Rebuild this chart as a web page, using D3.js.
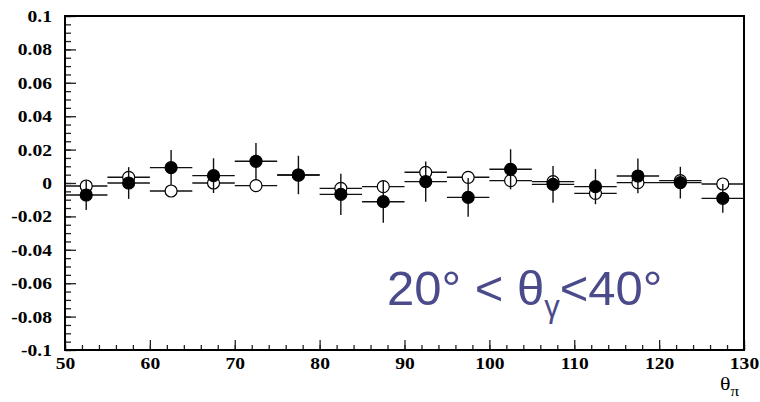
<!DOCTYPE html>
<html>
<head>
<meta charset="utf-8">
<script src="https://cdn.jsdelivr.net/npm/d3@7"></script>
<style>
  html, body { margin: 0; padding: 0; background: #fff; }
  svg { display: block; }
</style>
</head>
<body>
<svg id="chart" width="760" height="402"></svg>
<script>
// Bin centres in theta_pi (degrees), each bin 5 degrees wide
const binCenters = [52.5, 57.5, 62.5, 67.5, 72.5, 77.5, 82.5, 87.5, 92.5, 97.5, 102.5, 107.5, 112.5, 117.5, 122.5, 127.5];
const binHalfWidth = 2.5;

// Filled-marker series: values and errors
const filledValues = [-0.0072, 0.0000, 0.0092, 0.0044, 0.0130, 0.0048, -0.0068, -0.0112, 0.0008, -0.0086, 0.0082, -0.0008, -0.0022, 0.0042, 0.0002, -0.0092];
const filledErrors = [0.0090, 0.0095, 0.0105, 0.0104, 0.0110, 0.0115, 0.0124, 0.0126, 0.0120, 0.0116, 0.0120, 0.0110, 0.0105, 0.0104, 0.0095, 0.0086];

// Open-marker series: values and errors
const openValues = [-0.0018, 0.0034, -0.0048, 0.0000, -0.0016, 0.0048, -0.0032, -0.0022, 0.0064, 0.0034, 0.0014, 0.0008, -0.0062, 0.0002, 0.0014, -0.0006];
const openErrors = [0.0030, 0.0030, 0.0030, 0.0030, 0.0030, 0.0030, 0.0030, 0.0030, 0.0030, 0.0030, 0.0030, 0.0030, 0.0030, 0.0030, 0.0030, 0.0030];

// Axis ticks
const xMajorTicks = [50, 60, 70, 80, 90, 100, 110, 120, 130];
const xMinorTicks = d3.range(50, 130.01, 2);
const yMajorTicks = [-0.1, -0.08, -0.06, -0.04, -0.02, 0, 0.02, 0.04, 0.06, 0.08, 0.1];
const yMinorTicks = d3.range(-0.1, 0.1001, 0.005);
const yTickLabels = ["-0.1", "-0.08", "-0.06", "-0.04", "-0.02", "0", "0.02", "0.04", "0.06", "0.08", "0.1"];

const svg = d3.select("#chart");
const margin = { left: 65, right: 16, top: 16, bottom: 52 };
const W = 760, H = 402;

const x = d3.scaleLinear().domain([50, 130]).range([margin.left, W - margin.right]);
const y = d3.scaleLinear().domain([-0.1, 0.1]).range([H - margin.bottom, margin.top]);

const labelStretch = 1.15;

function styleTicks(g) {
  g.select(".domain").remove();
  g.selectAll("line").attr("stroke", "#222").attr("stroke-width", 1.3);
}

// Bold serif tick labels, slightly widened
function styleLabels(g) {
  g.selectAll("text").each(function () {
    const t = d3.select(this);
    const tx = +t.attr("x") || 0;
    const ty = +t.attr("y") || 0;
    t.attr("x", 0).attr("y", 0)
      .attr("transform", `translate(${tx},${ty}) scale(${labelStretch},1)`)
      .attr("font-family", "Liberation Serif")
      .attr("font-weight", "bold")
      .attr("font-size", 17)
      .attr("fill", "#000");
  });
}

// Minor ticks
svg.append("g")
  .attr("transform", `translate(0,${y(-0.1)})`)
  .call(d3.axisBottom(x).tickValues(xMinorTicks).tickSize(-5).tickFormat(""))
  .call(styleTicks);
svg.append("g")
  .attr("transform", `translate(${x(50)},0)`)
  .call(d3.axisLeft(y).tickValues(yMinorTicks).tickSize(-6).tickFormat(""))
  .call(styleTicks);

// Major ticks with labels
svg.append("g")
  .attr("transform", `translate(0,${y(-0.1)})`)
  .call(d3.axisBottom(x).tickValues(xMajorTicks).tickSize(-10).tickPadding(7).tickFormat(d3.format("d")))
  .call(styleTicks)
  .call(styleLabels);
svg.append("g")
  .attr("transform", `translate(${x(50)},0)`)
  .call(d3.axisLeft(y).tickValues(yMajorTicks).tickSize(-11).tickPadding(13)
    .tickFormat((d, i) => yTickLabels[i]))
  .call(styleTicks)
  .call(styleLabels);

// Frame
svg.append("rect")
  .attr("x", x(50)).attr("y", y(0.1))
  .attr("width", x(130) - x(50)).attr("height", y(-0.1) - y(0.1))
  .attr("fill", "none").attr("stroke", "#000").attr("stroke-width", 2);

// Error bars and markers for one series
function drawSeries(values, errors, filled) {
  const g = svg.append("g");
  const pts = binCenters.map((c, i) => ({ c, v: values[i], e: errors[i] }));
  g.selectAll("line.h").data(pts).join("line")
    .attr("x1", d => x(d.c - binHalfWidth)).attr("x2", d => x(d.c + binHalfWidth))
    .attr("y1", d => y(d.v)).attr("y2", d => y(d.v))
    .attr("stroke", "#111").attr("stroke-width", 1.4);
  g.selectAll("line.v").data(pts).join("line")
    .attr("x1", d => x(d.c)).attr("x2", d => x(d.c))
    .attr("y1", d => y(d.v - d.e)).attr("y2", d => y(d.v + d.e))
    .attr("stroke", "#111").attr("stroke-width", 1.4);
  g.selectAll("circle").data(pts).join("circle")
    .attr("cx", d => x(d.c)).attr("cy", d => y(d.v)).attr("r", 6)
    .attr("fill", filled ? "#000" : "#fff")
    .attr("stroke", "#000").attr("stroke-width", 1.2);
}
drawSeries(openValues, openErrors, false);
drawSeries(filledValues, filledErrors, true);

// X axis title: theta_pi
const xt = svg.append("text")
  .attr("transform", `translate(720,390) scale(${labelStretch},1)`)
  .attr("font-family", "Liberation Serif").attr("font-size", 19).attr("fill", "#000");
xt.append("tspan").text("θ");
xt.append("tspan").attr("dy", 6).attr("font-size", 15).text("π");

// Angular range annotation
const ann = svg.append("text")
  .attr("x", 387).attr("y", 305)
  .attr("font-family", "Liberation Sans")
  .attr("font-size", 49).attr("fill", "#4b4b8c");
ann.append("tspan").text("20° < θ");
ann.append("tspan").attr("dy", 12).attr("font-size", 31).text("γ");
ann.append("tspan").attr("dy", -12).text("<40°");
</script>
</body>
</html>
